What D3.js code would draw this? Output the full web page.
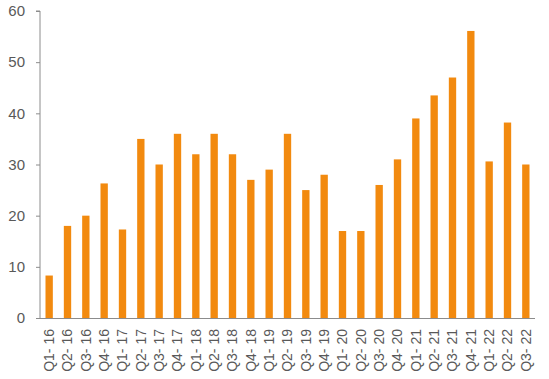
<!DOCTYPE html>
<html><head><meta charset="utf-8">
<script src="https://cdn.jsdelivr.net/npm/d3@7"></script>
<style>body{margin:0;background:#fff}svg{display:block}</style>
</head><body>
<svg id="c" width="549" height="379"></svg>
<script>
const categories = ["Q1- 16","Q2- 16","Q3- 16","Q4- 16","Q1- 17","Q2- 17","Q3- 17","Q4- 17","Q1- 18","Q2- 18","Q3- 18","Q4- 18","Q1- 19","Q2- 19","Q3- 19","Q4- 19","Q1- 20","Q2- 20","Q3- 20","Q4- 20","Q1- 21","Q2- 21","Q3- 21","Q4- 21","Q1- 22","Q2- 22","Q3- 22"];
const values = [8.3,18,20,26.3,17.3,35,30,36,32,36,32,27,29,36,25,28,17,17,26,31,39,43.5,47,56.1,30.6,38.2,30];
const yTicks = [0,10,20,30,40,50,60];

const FONT = "'Liberation Sans', Arial, sans-serif";
const svg = d3.select("#c");
const m = {left:40, right:14, top:11, bottom:61};
const W = 549, H = 379;
const x = d3.scaleBand().domain(categories).range([m.left, W - m.right]).paddingInner(0.6).paddingOuter(0.3);
const y = d3.scaleLinear().domain([0,60]).range([H - m.bottom, m.top]);

svg.append("g").selectAll("rect").data(values).join("rect")
  .attr("x", (d,i) => x(categories[i]))
  .attr("width", x.bandwidth())
  .attr("y", d => y(d))
  .attr("height", d => y(0) - y(d))
  .attr("fill", "#F28A0F");

const yAxis = svg.append("g").attr("transform", `translate(${m.left},0)`)
  .call(d3.axisLeft(y).tickValues(yTicks).tickSize(4).tickPadding(11));
yAxis.select(".domain").attr("stroke", "#8c8c8c").attr("d", `M-4,${y(60)}H0V${y(0)}`);
yAxis.selectAll(".tick line").attr("stroke", "#8c8c8c");
yAxis.selectAll(".tick text").attr("fill", "#595959").style("font-family", FONT).style("font-size", "15px");

const xAxis = svg.append("g").attr("transform", `translate(0,${y(0)})`)
  .call(d3.axisBottom(x).tickSize(0).tickPadding(0));
xAxis.select(".domain").attr("stroke", "#8c8c8c").attr("d", `M${m.left-4},0.5H${W - m.right}`);
xAxis.selectAll(".tick text")
  .attr("fill", "#595959")
  .style("font-family", FONT).style("font-size", "14px")
  .attr("transform", "rotate(-90)")
  .attr("text-anchor", "end")
  .attr("x", -11).attr("y", 0).attr("dy", "0.35em");
</script>
</body></html>
